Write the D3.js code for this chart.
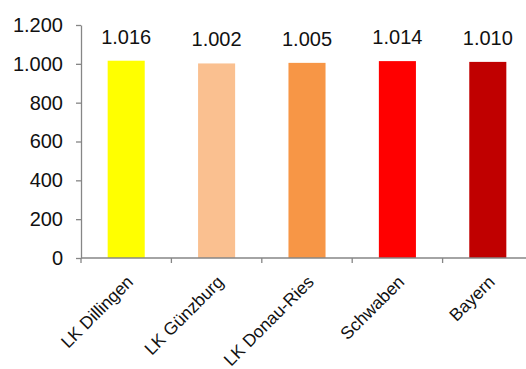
<!DOCTYPE html>
<html>
<head>
<meta charset="utf-8">
<script src="https://cdn.jsdelivr.net/npm/d3@7"></script>
<style>
  html, body { margin: 0; padding: 0; background: #fff; }
  svg { display: block; font-family: "Liberation Sans", Arial, sans-serif; }
</style>
</head>
<body>
<svg id="chart" width="526" height="369"></svg>
<script>
// Regions and their values
const categories = ["LK Dillingen", "LK Günzburg", "LK Donau-Ries", "Schwaben", "Bayern"];
const values = [1016, 1002, 1005, 1014, 1010];
const barColors = ["#FFFF00", "#FAC090", "#F79646", "#FF0000", "#C00000"];
const yTicks = [0, 200, 400, 600, 800, 1000, 1200];

// German number format: dot as thousands separator
const de = d3.formatLocale({ decimal: ",", thousands: ".", grouping: [3], currency: ["", " €"] });
const fmt = de.format(",.0f");

const svg = d3.select("#chart");
const axisColor = "#868686";

const x = d3.scaleBand()
  .domain(categories)
  .range([81, 533])
  .paddingInner(0.59)
  .paddingOuter(0.295);

const y = d3.scaleLinear()
  .domain([0, 1200])
  .range([258, 25]);

// Bars
svg.append("g")
  .selectAll("rect")
  .data(values)
  .join("rect")
  .attr("x", (d, i) => x(categories[i]))
  .attr("y", d => y(d))
  .attr("width", x.bandwidth())
  .attr("height", d => y(0) - y(d))
  .attr("fill", (d, i) => barColors[i]);

// Value labels above bars
svg.append("g")
  .selectAll("text")
  .data(values)
  .join("text")
  .attr("x", (d, i) => x(categories[i]) + x.bandwidth() / 2)
  .attr("y", d => y(d) - 17)
  .attr("text-anchor", "middle")
  .attr("font-size", 20)
  .attr("fill", "#111")
  .text(d => fmt(d));

// Y axis
const yAxis = svg.append("g")
  .attr("transform", `translate(${x.range()[0]},0)`)
  .call(d3.axisLeft(y).tickValues(yTicks).tickSize(5).tickSizeOuter(0).tickPadding(13).tickFormat(fmt));
yAxis.select(".domain").attr("stroke", axisColor).attr("stroke-width", 1.3);
yAxis.selectAll(".tick line").attr("stroke", axisColor).attr("stroke-width", 1.3);
yAxis.selectAll(".tick text")
  .attr("font-size", 20)
  .attr("font-family", "Liberation Sans, Arial, sans-serif")
  .attr("fill", "#111");

// X axis line with ticks at the category boundaries
const xAxis = svg.append("g");
const boundaries = categories.map(c => x(c) - x.step() * x.paddingOuter());
xAxis.append("line")
  .attr("x1", x.range()[0]).attr("x2", 526)
  .attr("y1", y(0)).attr("y2", y(0))
  .attr("stroke", axisColor).attr("stroke-width", 1.3);
xAxis.selectAll("line.tick")
  .data(boundaries)
  .join("line")
  .attr("class", "tick")
  .attr("x1", d => d).attr("x2", d => d)
  .attr("y1", y(0)).attr("y2", y(0) + 5)
  .attr("stroke", axisColor).attr("stroke-width", 1.3);

// Rotated category labels
xAxis.selectAll("text")
  .data(categories)
  .join("text")
  .attr("transform", c => `translate(${x(c) + x.bandwidth() / 2 + 8},${y(0) + 25}) rotate(-45)`)
  .attr("text-anchor", "end")
  .attr("font-size", 17.5)
  .attr("fill", "#111")
  .text(c => c);
</script>
</body>
</html>
